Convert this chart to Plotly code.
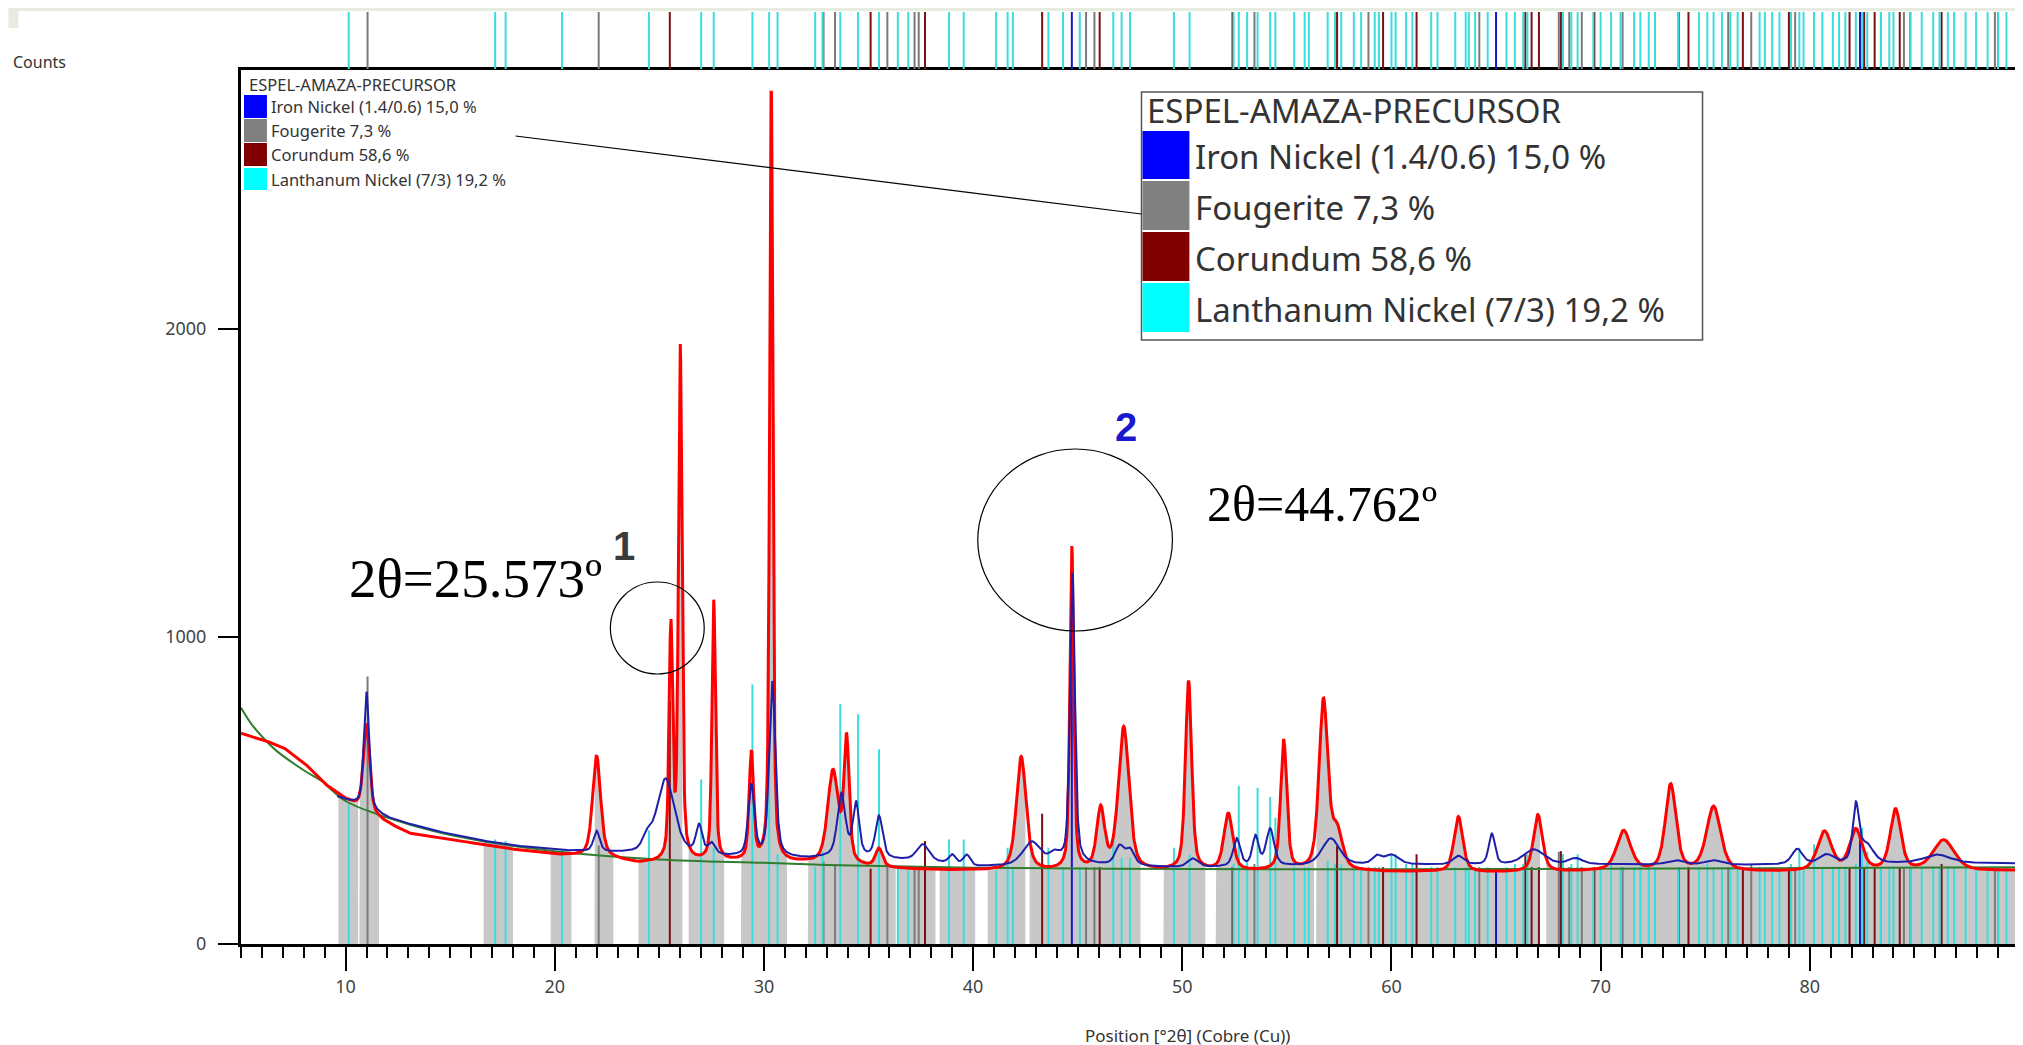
import numpy as np
import plotly.graph_objects as go

# ------------------------------------------------------------------ data
# Observed pattern (red): baseline knots + peaks (position, height above baseline, FWHM)
obs_base_x = [5, 6, 7, 8, 9, 10, 11.8, 13, 15, 17.5, 20, 22.5, 24, 26, 28, 30, 32, 35, 38, 40, 45, 50, 55, 60, 65, 70, 75, 80, 85, 90.3]
obs_base_y = [685, 665, 640, 590, 520, 470, 400, 360, 340, 312, 290, 280, 262, 265, 268, 265, 262, 248, 240, 238, 235, 236, 234, 234, 232, 236, 234, 234, 236, 238]
obs_pk_pos = [11.0, 22.0, 25.55, 26.0, 27.6, 29.4, 30.35, 33.3, 33.95, 35.5, 42.3, 44.72, 46.1, 47.2, 50.3, 52.2, 54.85, 56.75, 57.4, 63.2, 67.0, 71.1, 73.35, 75.4, 80.7, 82.2, 84.1, 86.4]
obs_pk_h = [285, 330, 755, 1665, 845, 350, 2525, 300, 400, 60, 370, 1050, 195, 465, 615, 185, 422, 550, 120, 180, 185, 130, 280, 210, 128, 133, 198, 100]
obs_pk_w = [0.35, 0.45, 0.2, 0.2, 0.2, 0.25, 0.18, 0.6, 0.3, 0.4, 0.55, 0.22, 0.45, 0.6, 0.35, 0.5, 0.35, 0.5, 0.6, 0.5, 0.5, 0.8, 0.6, 0.8, 0.8, 0.7, 0.6, 1.2]

# Calculated profile (blue)
calc_base_x = [9.6, 10.5, 12, 14, 16, 18, 20, 22, 24, 26, 28, 30, 32, 34, 36, 38, 40, 45, 50, 55, 60, 65, 70, 75, 80, 85, 90.3]
calc_base_y = [478, 455, 410, 372, 342, 320, 305, 298, 292, 290, 283, 280, 277, 285, 275, 265, 250, 258, 248, 252, 258, 256, 258, 256, 258, 262, 262]
calc_pk_pos = [11.0, 22.0, 24.4, 25.3, 26.9, 27.5, 29.4, 30.4, 33.7, 34.4, 35.5, 37.6, 39.0, 39.7, 42.8, 43.9, 44.75, 47.0, 47.5, 50.5, 52.6, 53.5, 54.2, 57.1, 59.3, 60.0, 63.2, 64.8, 66.8, 68.8, 73.6, 75.4, 79.4, 80.8, 82.2, 82.7, 86.1]
calc_pk_h = [380, 67, 40, 245, 90, 35, 230, 570, 200, 170, 135, 55, 30, 35, 75, 30, 945, 60, 50, 28, 90, 95, 120, 88, 25, 30, 28, 100, 50, 20, 15, 15, 50, 30, 180, 60, 28]
calc_pk_w = [0.3, 0.35, 0.5, 1.0, 0.35, 0.4, 0.35, 0.35, 0.45, 0.35, 0.4, 0.7, 0.4, 0.4, 1.0, 0.6, 0.28, 0.5, 0.5, 0.6, 0.4, 0.35, 0.45, 1.0, 0.5, 0.8, 0.6, 0.35, 1.2, 0.8, 1.0, 1.0, 0.6, 0.8, 0.35, 0.8, 1.5]

# Background (green)
bkg_x = [5, 5.5, 6, 6.7, 8, 8.85, 10, 12, 14.2, 16.5, 20, 25, 30, 33, 40, 50, 60, 70, 80, 90.3]
bkg_y = [768, 715, 675, 628, 565, 530, 465, 411, 367, 335, 302, 275, 264, 257, 248, 244, 243, 245, 247, 250]

# Grey (peak-search) regions
grey_start = [9.65, 10.65, 16.6, 19.8, 21.9, 24.0, 26.4, 28.9, 32.1, 36.4, 38.4, 40.7, 42.7, 49.1, 51.6, 56.4, 67.4]
grey_end = [10.6, 11.6, 18.0, 20.8, 22.8, 26.1, 28.1, 31.1, 36.3, 38.2, 40.1, 42.5, 48.0, 51.1, 56.3, 67.1, 90.3]

# Reference patterns (stick positions, heights in counts)
lani_pos = [10.15, 17.15, 17.65, 20.35, 24.5, 27.0, 27.6, 29.45, 30.25, 30.65, 32.45, 32.8, 33.65, 34.5, 35.5, 36.4, 36.9, 38.85, 39.55, 41.1, 41.65, 41.9, 43.6, 44.3, 45.1, 46.7, 47.1, 47.5, 49.6, 50.35, 52.45, 52.7, 53.1, 53.6, 54.2, 54.45, 55.35, 55.85, 56.05, 56.95, 57.3, 57.6, 58.2, 58.55, 59.2, 59.4, 60.0, 60.2, 60.7, 61.0, 61.9, 62.2, 63.05, 63.55, 63.7, 64.0, 64.6, 65.5, 65.9, 66.3, 66.5, 68.2, 68.6, 68.9, 69.65, 70.0, 70.5, 70.95, 71.6, 71.9, 72.3, 72.6, 73.7, 74.7, 75.1, 75.4, 75.8, 76.2, 76.55, 77.6, 77.85, 78.2, 78.55, 79.1, 79.5, 79.7, 80.2, 80.6, 81.1, 81.4, 81.7, 82.2, 82.5, 82.75, 83.4, 83.8, 84.0, 84.8, 85.35, 85.9, 86.2, 86.6, 86.9, 87.45, 87.95, 88.5, 89.0, 89.4]
lani_h = [454, 340, 335, 308, 370, 535, 313, 844, 1600, 292, 250, 300, 780, 747, 633, 250, 240, 340, 340, 240, 313, 250, 313, 250, 250, 335, 280, 280, 313, 292, 260, 514, 270, 508, 478, 411, 250, 250, 250, 270, 260, 260, 250, 250, 250, 250, 292, 292, 260, 260, 250, 250, 250, 250, 260, 250, 250, 250, 260, 260, 292, 292, 260, 292, 250, 250, 260, 250, 250, 260, 250, 250, 250, 250, 260, 250, 250, 250, 250, 250, 250, 250, 250, 260, 313, 250, 324, 250, 250, 250, 250, 260, 378, 300, 250, 250, 250, 250, 250, 250, 250, 250, 250, 250, 250, 250, 250, 250]
foug_pos = [11.05, 22.1, 32.85, 33.4, 35.9, 37.2, 37.4, 45.4, 45.8, 53.45, 58.9, 64.2, 68.0, 68.5, 69.1, 71.05, 73.75, 76.1, 77.2, 79.3, 83.4, 84.5, 88.85]
foug_h = [870, 320, 270, 260, 250, 250, 250, 250, 250, 260, 250, 250, 300, 250, 250, 250, 250, 250, 260, 250, 250, 250, 250]
coru_pos = [25.5, 35.1, 37.7, 43.3, 46.05, 52.4, 57.4, 59.6, 61.2, 66.4, 66.7, 67.05, 68.1, 69.7, 74.2, 76.8, 79.0, 81.9, 82.6, 83.1, 84.3, 84.8, 86.3, 89.0]
coru_h = [790, 245, 335, 424, 250, 250, 318, 250, 292, 292, 250, 250, 302, 250, 250, 250, 250, 250, 250, 250, 250, 250, 260, 250]
feni_pos = [44.72, 65.0, 82.4]
feni_h = [1190, 240, 345]

legend_title = "ESPEL-AMAZA-PRECURSOR"
legend_names = ["Iron Nickel (1.4/0.6) 15,0 %", "Fougerite 7,3 %", "Corundum 58,6 %", "Lanthanum Nickel (7/3) 19,2 %"]
legend_colors = ["#0000FF", "#808080", "#800000", "#00FFFF"]

# ------------------------------------------------------------------ helpers
def pvoigt(x, pos, h, w):
    y = np.zeros_like(x)
    for p, hh, ww in zip(pos, h, w):
        d = (x - p) / (ww / 2.0)
        y += hh * (0.5 * np.exp(-np.log(2) * d ** 2) + 0.5 / (1 + d ** 2))
    return y

X_MIN, X_MAX = 5.0, 90.24
xg = np.round(np.arange(X_MIN, X_MAX + 0.0001, 0.02), 4)
obs = np.interp(xg, obs_base_x, obs_base_y) + pvoigt(xg, obs_pk_pos, obs_pk_h, obs_pk_w)
xc = xg[xg >= calc_base_x[0]]
calc = np.interp(xc, calc_base_x, calc_base_y) + pvoigt(xc, calc_pk_pos, calc_pk_h, calc_pk_w)
bkg_g = np.interp(xg, bkg_x, bkg_y)
grey_top = np.maximum(obs, bkg_g)

W, H = 2023, 1045
L, R, T, B = 233, 4, 4, 109
PW = W - L - R
PH = H - T - B
AXB = H - B  # 936 : pixel row of the x axis
DX, DY = -6, -7  # offset applied to decoration pixel positions

def px(x):
    return (x + DX - L) / PW

def py(y):
    return (AXB - (y + DY)) / PH

FRAME_TOP = 62
main_top = (AXB - FRAME_TOP) / PH
strip_bottom = (AXB - FRAME_TOP + 1) / PH

fig = go.Figure()

# grey regions as closed polygons
gx, gy = [], []
for a, b in zip(grey_start, grey_end):
    m = (xg >= a) & (xg <= b)
    xs = list(xg[m])
    ys = list(grey_top[m])
    gx += [xs[0]] + xs + [xs[-1], xs[0], None]
    gy += [0] + ys + [0, 0, None]
fig.add_trace(go.Scatter(x=gx, y=gy, mode="lines", line=dict(width=0, color="#c8c8c8"),
                         fill="toself", fillcolor="#c8c8c8", hoverinfo="skip"))

def sticks(pos, h, color, width, xaxis="x", yaxis="y", full=False):
    xs, ys = [], []
    for p, hh in zip(pos, h):
        xs += [p, p, None]
        ys += [0, 1 if full else hh, None]
    return go.Scatter(x=xs, y=ys, mode="lines", line=dict(color=color, width=width),
                      xaxis=xaxis, yaxis=yaxis, hoverinfo="skip")

stick_sets = [
    (foug_pos, foug_h, "#7a7a7a"),
    (coru_pos, coru_h, "#7a1010"),
    (lani_pos, lani_h, "#3adcdc"),
    (feni_pos, feni_h, "#1515d0"),
]
for pos, h, col in stick_sets:
    fig.add_trace(sticks(pos, h, col, 2))

# background
fig.add_trace(go.Scatter(x=bkg_x, y=bkg_y, mode="lines", line=dict(color="#2f7d2f", width=2, shape="spline"),
                         hoverinfo="skip"))
# observed
fig.add_trace(go.Scatter(x=xg, y=obs, mode="lines", line=dict(color="#ff0000", width=3), hoverinfo="skip"))
# calculated
fig.add_trace(go.Scatter(x=xc, y=calc, mode="lines", line=dict(color="#1e1ea8", width=2), hoverinfo="skip"))

# top strip with reference positions
for pos, h, col in stick_sets:
    fig.add_trace(sticks(pos, h, col, 2, xaxis="x2", yaxis="y2", full=True))

tickfont = dict(family="Noto Sans", size=18, color="#444444")
fig.update_layout(
    width=W, height=H,
    margin=dict(l=L, r=R, t=T, b=B),
    paper_bgcolor="white", plot_bgcolor="white",
    showlegend=False,
    xaxis=dict(domain=[0, 1], range=[X_MIN, X_MAX], anchor="y", showline=True, linecolor="black", linewidth=3,
               mirror=True, showgrid=False, zeroline=False,
               tickmode="array", tickvals=[10, 20, 30, 40, 50, 60, 70, 80],
               ticks="outside", ticklen=24, tickwidth=2, tickcolor="black", tickfont=tickfont,
               minor=dict(tickmode="linear", tick0=0, dtick=1, ticks="outside", ticklen=11,
                          tickwidth=2, tickcolor="black", showgrid=False)),
    yaxis=dict(domain=[0, main_top], range=[0, (AXB - FRAME_TOP) / 0.3075], anchor="x",
               showline=True, linecolor="black", linewidth=3, mirror=True, showgrid=False, zeroline=False,
               tickmode="array", tickvals=[0, 1000, 2000], ticks="outside", ticklen=20, tickwidth=2,
               tickcolor="black", tickfont=tickfont, ticklabelstandoff=8),
    xaxis2=dict(domain=[0, 1], range=[X_MIN, X_MAX], anchor="y2", visible=False),
    yaxis2=dict(domain=[strip_bottom, 1], range=[0, 1], anchor="x2", visible=False),
)

shapes = []
annos = []
# light band at very top (screenshot edge)
shapes.append(dict(type="rect", xref="paper", yref="paper", x0=-L / PW, x1=(W - L) / PW,
                   y0=(AXB - 3) / PH, y1=AXB / PH, fillcolor="#e6ede0", line=dict(width=0), layer="below"))
shapes.append(dict(type="rect", xref="paper", yref="paper", x0=-L / PW, x1=(10 - L) / PW,
                   y0=(AXB - 20) / PH, y1=AXB / PH, fillcolor="#e6ede0", line=dict(width=0), layer="below"))

uifont = "Noto Sans"
# axis titles
annos.append(dict(text="Counts", x=px(37), y=py(61), xref="paper", yref="paper", showarrow=False,
                  xanchor="center", yanchor="middle", font=dict(family=uifont, size=16, color="#333333")))
annos.append(dict(text="Position [°2θ] (Cobre (Cu))", x=px(1187), y=py(1034), xref="paper", yref="paper",
                  showarrow=False, xanchor="center", yanchor="middle",
                  font=dict(family=uifont, size=17, color="#333333")))

# small legend
annos.append(dict(text=legend_title, x=px(245), y=py(83), xref="paper", yref="paper", showarrow=False,
                  xanchor="left", yanchor="middle", font=dict(family=uifont, size=16.5, color="#333333")))
sm_rows = [(94, 117), (118, 141), (142, 165), (167, 189)]
for (y0, y1), name, col in zip(sm_rows, legend_names, legend_colors):
    shapes.append(dict(type="rect", xref="paper", yref="paper", x0=px(242), x1=px(265), y0=py(y1), y1=py(y0),
                       fillcolor=col, line=dict(width=0)))
    annos.append(dict(text=name, x=px(267), y=py((y0 + y1) / 2), xref="paper", yref="paper", showarrow=False,
                      xanchor="left", yanchor="middle", font=dict(family=uifont, size=16.5, color="#333333")))

# big legend
shapes.append(dict(type="rect", xref="paper", yref="paper", x0=px(1141), x1=px(1703), y0=py(339), y1=py(91),
                   fillcolor="white", line=dict(color="#555555", width=1.5)))
annos.append(dict(text=legend_title, x=px(1145), y=py(110), xref="paper", yref="paper", showarrow=False,
                  xanchor="left", yanchor="middle", font=dict(family=uifont, size=33, color="#333333")))
bg_rows = [(130, 178), (180, 229), (231, 280), (282, 331)]
for (y0, y1), name, col in zip(bg_rows, legend_names, legend_colors):
    shapes.append(dict(type="rect", xref="paper", yref="paper", x0=px(1142), x1=px(1189), y0=py(y1), y1=py(y0),
                       fillcolor=col, line=dict(width=0)))
    annos.append(dict(text=name, x=px(1193), y=py((y0 + y1) / 2 + 2), xref="paper", yref="paper", showarrow=False,
                      xanchor="left", yanchor="middle", font=dict(family=uifont, size=33, color="#333333")))

# connector line
shapes.append(dict(type="line", xref="paper", yref="paper", x0=px(514), y0=py(135), x1=px(1141), y1=py(213),
                   line=dict(color="black", width=1.2)))

# circles
shapes.append(dict(type="circle", xref="paper", yref="paper", x0=px(609), x1=px(703), y0=py(673), y1=py(581),
                   line=dict(color="black", width=1.2)))
shapes.append(dict(type="circle", xref="paper", yref="paper", x0=px(977), x1=px(1172), y0=py(630), y1=py(448),
                   line=dict(color="black", width=1.2)))

# annotation texts
annos.append(dict(text="2θ=25.573º", x=px(474), y=py(577), xref="paper", yref="paper", showarrow=False,
                  xanchor="center", yanchor="middle", font=dict(family="Liberation Serif", size=55, color="black")))
annos.append(dict(text="2θ=44.762º", x=px(1322), y=py(503), xref="paper", yref="paper", showarrow=False,
                  xanchor="center", yanchor="middle", font=dict(family="Liberation Serif", size=50, color="black")))
annos.append(dict(text="<b>1</b>", x=px(623), y=py(545), xref="paper", yref="paper", showarrow=False,
                  xanchor="center", yanchor="middle", font=dict(family="Liberation Sans", size=40, color="#3a3a3a")))
annos.append(dict(text="<b>2</b>", x=px(1125), y=py(426), xref="paper", yref="paper", showarrow=False,
                  xanchor="center", yanchor="middle", font=dict(family="Liberation Sans", size=40, color="#1a1acc")))

fig.update_layout(shapes=shapes, annotations=annos)
fig.write_html("out.html")
